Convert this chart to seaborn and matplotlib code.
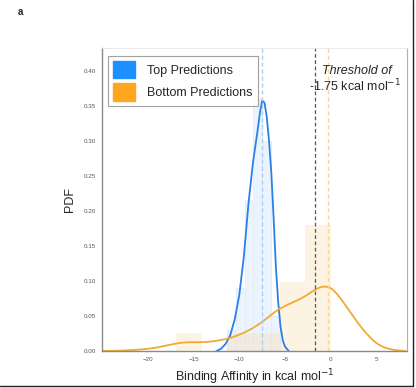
import numpy as np
import pandas as pd
import seaborn as sns
import matplotlib
matplotlib.use("Agg")
import matplotlib.pyplot as plt
from matplotlib.patches import Patch
from matplotlib.lines import Line2D

# ---- data ----
series_names = ["Top Predictions", "Bottom Predictions"]

# density curve of top predictions (x in kcal/mol, PDF value)
top_kde_x = [-12.5, -12.0, -11.5, -11.0, -10.5, -10.0, -9.5, -9.0, -8.5, -8.0,
             -7.75, -7.5, -7.25, -7.0, -6.75, -6.5, -6.25, -6.0, -5.75, -5.5,
             -5.25, -5.0, -4.6]
top_kde_y = [0.0, 0.003, 0.01, 0.022, 0.045, 0.08, 0.135, 0.21, 0.27, 0.315,
             0.34, 0.358, 0.355, 0.335, 0.30, 0.255, 0.19, 0.12, 0.07, 0.035,
             0.015, 0.006, 0.0]

# density of bottom predictions (smoothed by kdeplot)
bottom_kde_x = [-24, -23, -22, -21, -20, -19, -18, -17, -16, -15, -14, -13, -12,
                -11, -10, -9, -8, -7, -6, -5, -4, -3, -2, -1, 0, 1, 2, 3, 4, 5, 6, 7]
bottom_kde_y = [0.0, 0.0005, 0.001, 0.002, 0.003, 0.005, 0.008, 0.011, 0.013, 0.013,
                0.013, 0.014, 0.016, 0.019, 0.024, 0.03, 0.038, 0.048, 0.06, 0.067,
                0.073, 0.079, 0.089, 0.097, 0.096, 0.08, 0.06, 0.04, 0.024, 0.01,
                0.004, 0.001]

# histograms (bin edges and bar heights)
top_hist_edges = [-11.3, -10.35, -9.4, -8.45, -7.5, -6.55, -5.6]
top_hist_heights = [0.03, 0.09, 0.216, 0.36, 0.30, 0.05]

bottom_hist_edges = [-16.9, -14.1, -11.3, -8.5, -5.6, -2.8, 0.0]
bottom_hist_heights = [0.025, 0.0, 0.025, 0.025, 0.099, 0.18]

# reference lines
top_mean = -7.5
bottom_mean = -0.3
threshold = -1.75

x_ticks = [-20, -15, -10, -5, 0, 5]
y_ticks = [0.00, 0.05, 0.10, 0.15, 0.20, 0.25, 0.30, 0.35, 0.40]

# ---- style ----
sns.set_style("white")
plt.rcParams['font.family'] = ['Liberation Sans', 'DejaVu Sans']
plt.rcParams['axes.unicode_minus'] = True

blue_line = "#2b80e6"
orange_line = "#f2aa30"
blue_patch = "#1e8fff"
orange_patch = "#ffa51f"

fig = plt.figure(figsize=(4.16, 3.88), dpi=100)
ax = fig.add_axes([0.245, 0.0954, 0.733, 0.7806])

def centers(edges):
    e = np.asarray(edges)
    return (e[:-1] + e[1:]) / 2

# histograms
sns.histplot(x=centers(top_hist_edges), weights=top_hist_heights, bins=top_hist_edges,
             stat="count", color="#ebf4fe", alpha=1.0, edgecolor="#e0edfc",
             linewidth=0.6, ax=ax)
sns.histplot(x=centers(bottom_hist_edges), weights=bottom_hist_heights,
             bins=bottom_hist_edges, stat="count", color="#fbd9a0", alpha=0.3,
             edgecolor=None, linewidth=0, ax=ax)

# density curves
sns.lineplot(x=top_kde_x, y=top_kde_y, color=blue_line, linewidth=1.3, ax=ax)
sns.kdeplot(x=bottom_kde_x, weights=bottom_kde_y, bw_method=0.12, color=orange_line,
            linewidth=1.3, ax=ax, cut=1)

# vertical lines
ax.axvline(top_mean, color="#a9cdf3", linestyle=(0, (3, 2)), linewidth=1.0)
ax.axvline(bottom_mean, color="#f8d39a", linestyle=(0, (3, 2)), linewidth=1.0)
ax.axvline(threshold, color="#555555", linestyle=(0, (3, 2)), linewidth=0.9)

ax.set_xlim(-25, 8.3)
ax.set_ylim(0, 0.433)
ax.set_xticks(x_ticks)
ax.set_yticks(y_ticks)
ax.set_yticklabels([f"{v:.2f}" for v in y_ticks])
ax.tick_params(axis="both", labelsize=4.5, labelcolor="#555555", length=0, pad=4)

ax.set_xlabel("Binding Affinity in kcal mol$^{-1}$", fontsize=9, labelpad=4)
ax.set_ylabel("PDF", fontsize=9, labelpad=6)

for side in ["left", "bottom"]:
    ax.spines[side].set_color("#8a8a8a")
    ax.spines[side].set_linewidth(1.0)
ax.spines["right"].set_color("#b0b0b0")
ax.spines["right"].set_linewidth(0.8)
ax.spines["top"].set_color("#e6e6e6")
ax.spines["top"].set_linewidth(0.6)

handles = [Patch(facecolor=blue_patch, edgecolor=blue_patch, label=series_names[0]),
           Patch(facecolor=orange_patch, edgecolor=orange_patch, label=series_names[1])]
leg = ax.legend(handles=handles, loc="upper left", bbox_to_anchor=(0.012, 0.982),
                fontsize=9, frameon=True, fancybox=False, handlelength=1.75,
                handleheight=1.75, handletextpad=1.0, borderpad=0.4,
                labelspacing=0.4, borderaxespad=0.2)
leg.get_frame().set_edgecolor("#8a8a8a")
leg.get_frame().set_linewidth(0.8)

ax.text(0.835, 0.925, "Threshold of", transform=ax.transAxes, ha="center",
        va="center", fontsize=9, style="italic")
ax.text(0.83, 0.875, "-1.75 kcal mol$^{-1}$", transform=ax.transAxes, ha="center",
        va="center", fontsize=9)

fig.text(0.048, 0.968, "a", fontsize=7, fontweight="bold", ha="center", va="center")

# figure border on right/bottom
fig.add_artist(Line2D([0.993, 0.993], [0.005, 1.0], transform=fig.transFigure,
                      color="#222222", linewidth=1.0))
fig.add_artist(Line2D([0.0, 0.993], [0.005, 0.005], transform=fig.transFigure,
                      color="#222222", linewidth=1.0))

fig.savefig("out.png", dpi=100)
